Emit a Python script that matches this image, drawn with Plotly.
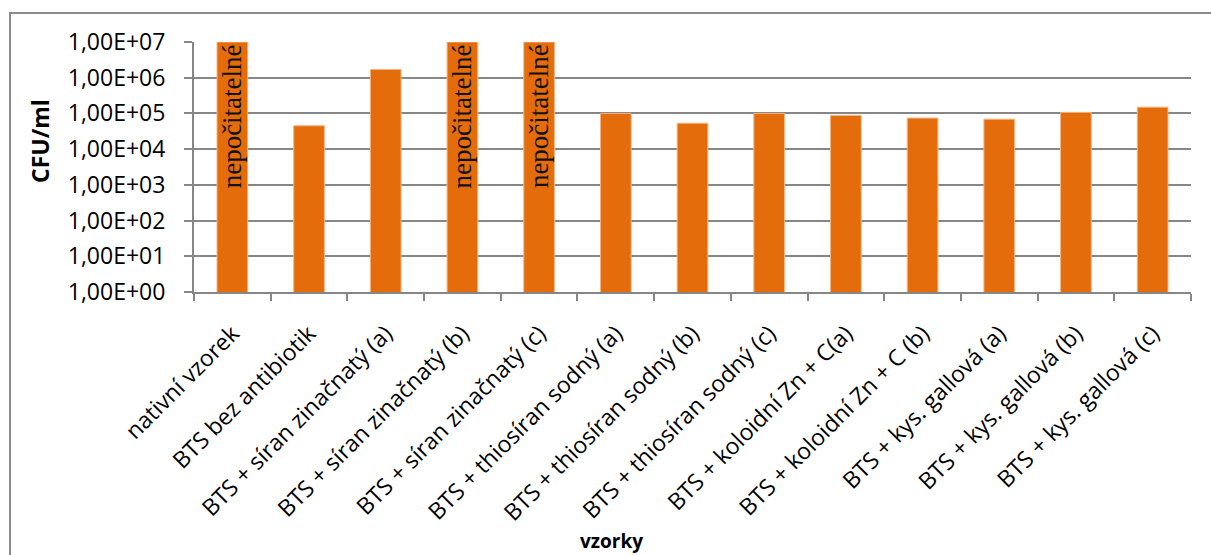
import plotly.graph_objects as go

# Samples (x categories)
categories = [
    "nativní vzorek",
    "BTS bez antibiotik",
    "BTS + síran zinačnatý (a)",
    "BTS + síran zinačnatý (b)",
    "BTS + síran zinačnatý (c)",
    "BTS + thiosíran sodný (a)",
    "BTS + thiosíran sodný (b)",
    "BTS + thiosíran sodný (c)",
    "BTS + koloidní Zn + C(a)",
    "BTS + koloidní Zn + C (b)",
    "BTS + kys. gallová (a)",
    "BTS + kys. gallová (b)",
    "BTS + kys. gallová (c)",
]

# CFU/ml per sample (uncountable plates are shown at the top of the scale)
cfu_values = [1e7, 4.5e4, 1.7e6, 1e7, 1e7, 1e5, 5.3e4, 1e5, 8.8e4, 7.4e4, 6.9e4, 1.07e5, 1.5e5]
uncountable = [True, False, False, True, True, False, False, False, False, False, False, False, False]
uncountable_label = "nepočitatelné"

# Logarithmic axis ticks
y_tick_values = [1e0, 1e1, 1e2, 1e3, 1e4, 1e5, 1e6, 1e7]
y_tick_labels = ["1,00E+00", "1,00E+01", "1,00E+02", "1,00E+03",
                 "1,00E+04", "1,00E+05", "1,00E+06", "1,00E+07"]

W, H = 1211, 555
ML, MR, MT, MB = 194, 20, 42, 263
PW, PH = W - ML - MR, H - MT - MB


def px_x(px):
    return (px - ML) / PW


def px_y(py):
    return (H - MB - py) / PH


ORANGE = "#E46C0A"
GRID = "#868686"
FONT = "Open Sans"

fig = go.Figure()
fig.add_trace(go.Bar(
    x=categories,
    y=cfu_values,
    width=0.4,
    marker=dict(color=ORANGE, line=dict(color="#F5B383", width=1)),
    hoverinfo="x+y",
))

# Vertical "uncountable" labels inside the bars
for cat, val, flag in zip(categories, cfu_values, uncountable):
    if flag:
        fig.add_annotation(
            x=cat, y=7, xref="x", yref="y",
            text=uncountable_label, textangle=-90,
            showarrow=False, xanchor="center", yanchor="top",
            font=dict(family="Liberation Serif", size=27, color="#111111"),
        )

# Axis titles
fig.add_annotation(
    x=px_x(40), y=px_y(141), xref="paper", yref="paper",
    text="<b>CFU/ml</b>", textangle=-90, showarrow=False,
    xanchor="center", yanchor="middle",
    font=dict(family=FONT, size=23, color="#000000"),
)
fig.add_annotation(
    x=px_x(611), y=px_y(541), xref="paper", yref="paper",
    text="<b>vzorky</b>", showarrow=False,
    xanchor="center", yanchor="middle",
    font=dict(family=FONT, size=19, color="#000000"),
)

# Outer chart frame
fig.add_shape(
    type="rect", xref="paper", yref="paper",
    x0=px_x(10), x1=px_x(1220), y0=px_y(13), y1=px_y(570),
    line=dict(color="#8c8c8c", width=2), layer="below",
)

fig.update_layout(
    width=W, height=H,
    margin=dict(l=ML, r=MR, t=MT, b=MB, pad=0),
    plot_bgcolor="white", paper_bgcolor="white",
    showlegend=False,
    font=dict(family=FONT, color="#000000"),
    xaxis=dict(
        type="category",
        range=[-0.5, len(categories) - 0.5],
        tickangle=-45,
        tickson="boundaries",
        ticks="outside", ticklen=7, tickcolor=GRID, tickwidth=2,
        showline=True, linecolor=GRID, linewidth=2,
        showgrid=False,
        tickfont=dict(family=FONT, size=23, color="#000000"),
        ticklabelstandoff=17,
    ),
    yaxis=dict(
        type="log",
        range=[0, 7],
        tickvals=y_tick_values,
        ticktext=y_tick_labels,
        ticks="outside", ticklen=8, tickcolor=GRID, tickwidth=2,
        showline=True, linecolor=GRID, linewidth=2,
        showgrid=True, gridcolor=GRID, gridwidth=1.5,
        zeroline=False,
        tickfont=dict(family=FONT, size=23, color="#000000"),
        ticklabelstandoff=14,
    ),
)

fig.write_html("out.html")
